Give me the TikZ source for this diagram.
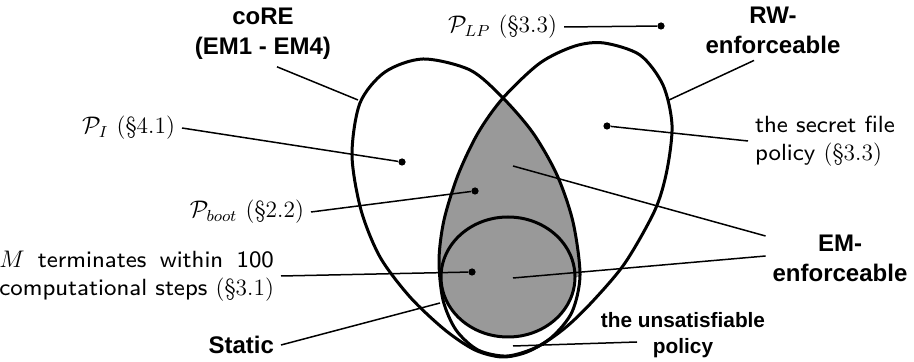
\documentclass[tikz,border=0pt]{standalone}
\usepackage{fontspec}
\usepackage{calc}
\newfontfamily\helv{Liberation Sans}
\newfontfamily\notesans{lmsans8-regular.otf}
\usetikzlibrary{positioning}

% the two egg shaped classes, in pixel units
\def\coREpath{plot[smooth cycle] coordinates {(423,59) (470,70) (503,98) (533,133) (557,175) (573,222) (580,275) (572,312) (552,337) (527,352) (502,357) (475,350) (445,330) (410,297) (380,257) (361,210) (352,155) (360,103) (385,72)}}
\def\RWpath{plot[smooth cycle] coordinates {(604,43) (640,55) (663,85) (672,125) (667,170) (655,210) (625,263) (592,302) (565,328) (537,347) (507,356) (478,350) (456,330) (443,300) (439,260) (444,220) (458,175) (478,133) (503,98) (540,63) (575,46)}}

\begin{document}
\begin{tikzpicture}[
    x=0.5pt, y=-0.5pt,
    region/.style={line width=1.5pt},
    leader/.style={line width=0.75pt},
    dot/.style={circle, fill, inner sep=0pt, minimum size=3.6pt},
    note/.style={font=\fontsize{11.7}{14}\selectfont\notesans},
    setname/.style={font=\fontsize{12}{15}\selectfont\helv\bfseries, align=center},
    smallname/.style={font=\fontsize{10.4}{13}\selectfont\helv\bfseries, align=center}
  ]
    \useasboundingbox (0,0) rectangle (914,362);

    % EM-enforceable region
    \begin{scope}
      \clip \coREpath;
      \clip \RWpath;
      \fill[black!40] (0,0) rectangle (914,277);
      \fill[black!40] (508,277) ellipse [x radius=33.5pt, y radius=30pt];
    \end{scope}

    \draw[region] \coREpath;
    \draw[region] \RWpath;
    \draw[region] (508,277) ellipse [x radius=33.5pt, y radius=30pt];

    % class names
    \node[setname] (core) at (263,34) {coRE\\(EM1 - EM4)};
    \node[setname] (rw) at (773,30) {RW-\\enforceable};
    \node[setname] (em) at (840,258) {EM-\\enforceable};
    \node[setname, anchor=east] (static) at (281,345) {Static};
    \node[smallname] (unsat) at (683,335) {the unsatisfiable\\policy};

    % policies
    \node[note, anchor=east] (plp) at (564,27) {$\mathcal{P}_{LP}$\ \textrm{(\S3.3)}};
    \node[note, anchor=east] (pi) at (182,128) {$\mathcal{P}_{I}$\ \textrm{(\S4.1)}};
    \node[note, anchor=east] (pboot) at (311,212) {$\mathcal{P}_{boot}$ \textrm{(\S2.2)}};
    \node[note, anchor=east, align=right] (mterm) at (281,276)
      {\makebox[\widthof{computational steps \textrm{(\S3.1)}}][s]{$M$ terminates within 100}\\computational steps \textrm{(\S3.1)}};
    \node[note, anchor=west, align=left] (secret) at (748,141) {the secret file\\policy \textrm{(\S3.3)}};

    \node[dot] (dlp) at (661,26) {};
    \node[dot] (di) at (402,162) {};
    \node[dot] (dboot) at (475,191) {};
    \node[dot] (dm) at (472,272) {};
    \node[dot] (dsecret) at (607,126) {};

    \coordinate (coreend) at (358,100);
    \coordinate (rwend) at (669,100);
    \coordinate (staticend) at (440,303);
    \coordinate (emup) at (513,166);
    \coordinate (emlow) at (513,278);
    \coordinate (unsatend) at (513,346);
    \coordinate (unsatstart) at (637,342);

    \draw[leader] (plp.east) -- (dlp);
    \draw[leader] (pi.east) -- (di);
    \draw[leader] (pboot.east) -- (dboot);
    \draw[leader] (mterm.east) -- (dm);
    \draw[leader] (secret.west) -- (dsecret);
    \draw[leader] ([xshift=7pt]core.south) -- (coreend);
    \draw[leader] ([xshift=-9.5pt]rw.south) -- (rwend);
    \draw[leader] (static.east) -- (staticend);
    \draw[leader] ([yshift=11pt]em.west) -- (emup);
    \draw[leader] ([yshift=1pt]em.west) -- (emlow);
    \draw[leader] (unsatstart) -- (unsatend);
  \end{tikzpicture}
\end{document}
